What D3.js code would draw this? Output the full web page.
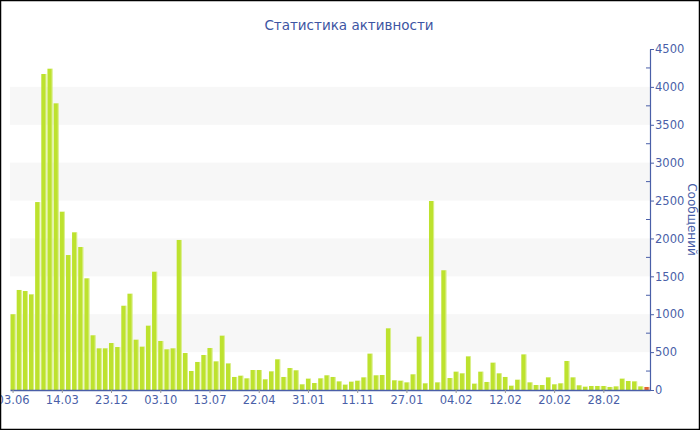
<!DOCTYPE html>
<html>
<head>
<meta charset="utf-8">
<script src="https://cdn.jsdelivr.net/npm/d3@7"></script>
<style>
  html, body { margin: 0; padding: 0; background: #fff; }
  svg { display: block; }
  text { font-family: "DejaVu Sans", Verdana, sans-serif; }
</style>
</head>
<body>
<svg id="chart" width="700" height="430"></svg>
<script>
const title = "Статистика активности";
const yAxisTitle = "Сообщений";
const values = [
  1000, 1320, 1306, 1262, 2480, 4170, 4240, 3783, 2353, 1781,
  2081, 1887, 1474, 722, 550, 550, 620, 567, 1112, 1271,
  664, 572, 849, 1561, 647, 537, 550, 1980, 488, 251,
  370, 462, 554, 378, 717, 351, 172, 189, 154, 264,
  264, 141, 246, 405, 172, 290, 260, 75, 150, 92,
  154, 194, 172, 114, 71, 110, 123, 167, 480, 194,
  198, 814, 128, 123, 101, 207, 704, 88, 2494, 101,
  1580, 158, 242, 220, 444, 84, 242, 106, 361, 220,
  172, 57, 136, 470, 101, 66, 66, 167, 75, 88,
  383, 167, 62, 44, 53, 53, 53, 40, 48, 150,
  119, 114, 48, 40
];
const tickLabels = ["03.06", "14.03", "23.12", "03.10", "13.07", "22.04", "31.01",
                    "11.11", "27.01", "04.02", "12.02", "20.02", "28.02"];
const tickEvery = 8;
const yTicks = [0, 500, 1000, 1500, 2000, 2500, 3000, 3500, 4000, 4500];
const bandRanges = [[500, 1000], [1500, 2000], [2500, 3000], [3500, 4000]];

const barColor = "#bde22e";
const lastBarColor = "#e2622e";
const axisColor = "#4a5fa8";

(function () {
const svg = d3.select("#chart");
const W = 700, H = 430;
const pL = 10, pR = 650, pT = 49, pB = 390;

const x = d3.scaleBand()
  .domain(d3.range(values.length))
  .range([pL, pR])
  .paddingInner(0.17)
  .paddingOuter(0.085);

const y = d3.scaleLinear().domain([0, 4500]).range([pB, pT]);

svg.append("rect").attr("x", 0).attr("y", 0).attr("width", W).attr("height", H).attr("fill", "#fff");

svg.append("g").selectAll("rect").data(bandRanges).join("rect")
  .attr("x", pL).attr("width", pR - pL)
  .attr("y", d => y(d[1])).attr("height", d => y(d[0]) - y(d[1]))
  .attr("fill", "#f7f7f7");

const bars = svg.append("g");
bars.selectAll("rect.bar").data(values).join("rect")
  .attr("class", "bar")
  .attr("x", (d, i) => x(i))
  .attr("width", x.bandwidth())
  .attr("y", d => y(d))
  .attr("height", d => y(0) - y(d))
  .attr("fill", (d, i) => i === values.length - 1 ? lastBarColor : barColor);
bars.selectAll("rect.hl").data(values).join("rect")
  .attr("class", "hl")
  .attr("x", (d, i) => x(i) + x.bandwidth() - 1)
  .attr("width", 1)
  .attr("y", d => y(d))
  .attr("height", d => y(0) - y(d))
  .attr("fill", "#ffffff").attr("opacity", 0.45);

const xTickVals = d3.range(0, values.length, tickEvery).slice(0, tickLabels.length);
const xAxis = svg.append("g")
  .attr("transform", `translate(0,${pB})`)
  .call(d3.axisBottom(x).tickValues(xTickVals).tickFormat(i => tickLabels[i / tickEvery]).tickSize(3).tickSizeOuter(0).tickPadding(3));
xAxis.select(".domain").attr("stroke", axisColor).attr("stroke-width", 1.5);
xAxis.selectAll(".tick line").attr("stroke", "#999");
xAxis.selectAll(".tick text").attr("fill", axisColor).attr("font-size", 11.5)
  .attr("font-family", "DejaVu Sans, Verdana, sans-serif");

const yAxis = svg.append("g")
  .attr("transform", `translate(${pR},0)`)
  .call(d3.axisRight(y).tickValues(yTicks).tickFormat(d3.format("d")).tickSize(4).tickSizeOuter(0).tickPadding(1));
yAxis.select(".domain").attr("stroke", axisColor).attr("stroke-width", 1.2);
yAxis.selectAll(".tick line").attr("stroke", axisColor);
yAxis.selectAll(".tick text").attr("fill", axisColor).attr("font-size", 11.5)
  .attr("font-family", "DejaVu Sans, Verdana, sans-serif");
const minor = d3.range(250, 4500, 500);
yAxis.append("g").selectAll("line").data(minor).join("line")
  .attr("x1", -4).attr("x2", 0)
  .attr("y1", d => y(d)).attr("y2", d => y(d))
  .attr("stroke", axisColor).attr("stroke-width", 1);

svg.append("text")
  .attr("transform", `translate(688,${(pT + pB) / 2}) rotate(90)`)
  .attr("text-anchor", "middle")
  .attr("fill", axisColor)
  .attr("font-size", 12)
  .text(yAxisTitle);

svg.append("text")
  .attr("x", 349).attr("y", 30)
  .attr("text-anchor", "middle")
  .attr("fill", "#3d55a3")
  .attr("font-size", 13.5)
  .text(title);

svg.append("rect").attr("x", 0.5).attr("y", 0.5).attr("width", W - 1).attr("height", H - 1)
  .attr("fill", "none").attr("stroke", "#000").attr("stroke-width", 1.5);
})();
</script>
</body>
</html>
